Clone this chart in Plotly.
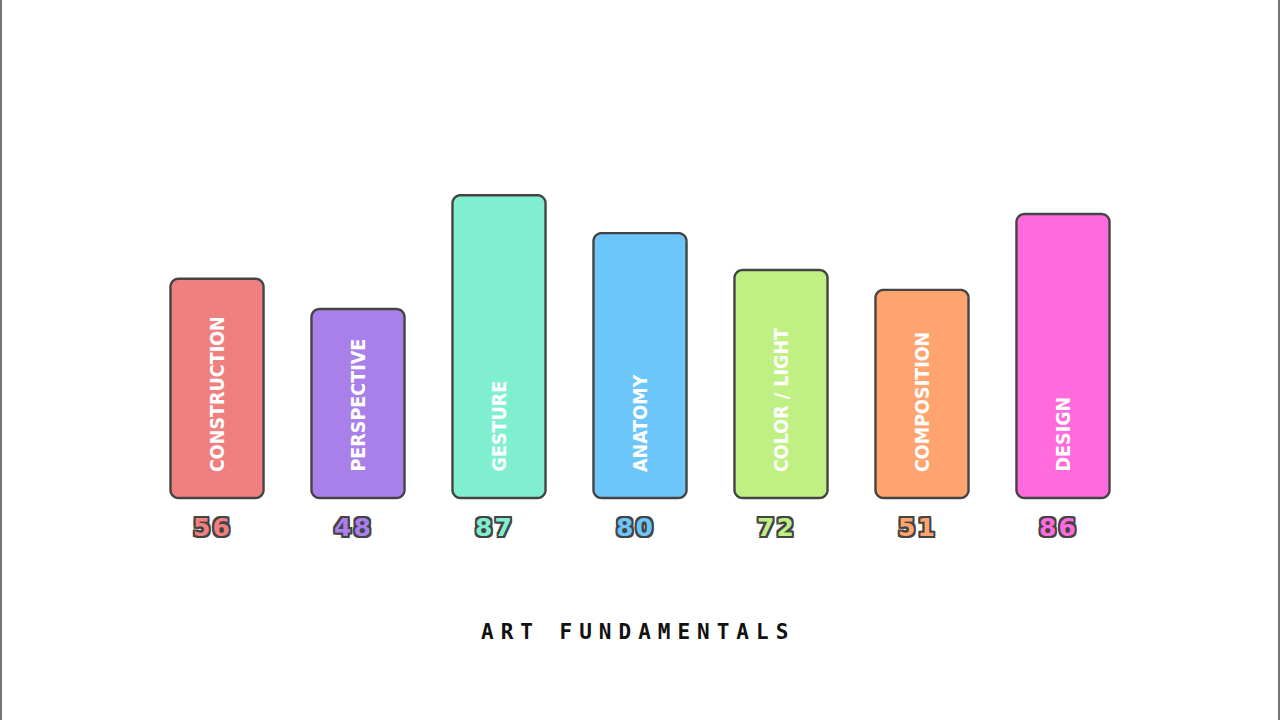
import math
import plotly.graph_objects as go

categories = ["CONSTRUCTION", "PERSPECTIVE", "GESTURE", "ANATOMY", "COLOR / LIGHT", "COMPOSITION", "DESIGN"]
scores = [56, 48, 87, 80, 72, 51, 86]
bar_levels = [63, 54.3, 87, 76.1, 65.5, 59.8, 81.6]
colors = ["#F08080", "#A97FE9", "#80EFD0", "#6CC6FA", "#C0F083", "#FFA36F", "#FF6ADD"]
title_text = "ART FUNDAMENTALS"

OUTLINE = "#444444"
PX_X = 141.0      # pixels per category unit
PX_Y = 3.48       # pixels per value unit
BASE_PX = 498
bar_w = 0.66
radius_px = 8


def rounded_bar(xc, top, w, r_px):
    rx = r_px / PX_X
    ry = r_px / PX_Y
    x0, x1, y0, y1 = xc - w / 2, xc + w / 2, 0.0, top
    pts = []
    corners = [
        (x1 - rx, y1 - ry, 0, 90),
        (x0 + rx, y1 - ry, 90, 180),
        (x0 + rx, y0 + ry, 180, 270),
        (x1 - rx, y0 + ry, 270, 360),
    ]
    for cx, cy, a0, a1 in corners:
        for k in range(13):
            a = math.radians(a0 + (a1 - a0) * k / 12)
            pts.append((cx + rx * math.cos(a), cy + ry * math.sin(a)))
    pts.append(pts[0])
    return [p[0] for p in pts], [p[1] for p in pts]


fig = go.Figure()
for i, (lvl, col) in enumerate(zip(bar_levels, colors)):
    xs, ys = rounded_bar(i, lvl, bar_w, radius_px)
    fig.add_trace(go.Scatter(x=xs, y=ys, mode="lines", fill="toself", fillcolor=col,
                             line=dict(color=OUTLINE, width=2.4, simplify=False, shape="linear"),
                             hoverinfo="skip", showlegend=False))

shadow = ", ".join(f"{dx}px {dy}px 0 {OUTLINE}" for dx, dy in
                   [(-2, -2), (2, -2), (-2, 2), (2, 2), (0, 2), (0, -2), (2, 0), (-2, 0)])

for i, (cat, sc, col) in enumerate(zip(categories, scores, colors)):
    fig.add_annotation(x=i, y=(BASE_PX - 474) / PX_Y, xref="x", yref="y",
                       text=cat, textangle=-90,
                       showarrow=False, yanchor="bottom", xanchor="center",
                       font=dict(family="DejaVu Sans Condensed, Roboto", size=19.5, color="white",
                                 weight="bold"))
    fig.add_annotation(x=i - 0.03, y=-(527 - BASE_PX) / PX_Y, xref="x", yref="y",
                       text=f'<span style="letter-spacing:2px">{sc}</span>',
                       showarrow=False, yanchor="middle", xanchor="center",
                       font=dict(family="DejaVu Sans", size=25, color=col, weight="bold",
                                 shadow=shadow))

fig.add_annotation(x=(638) / 1280, y=(720 - 632) / 720, xref="paper", yref="paper",
                   text=f'<span style="letter-spacing:7px">{title_text}</span>',
                   showarrow=False, xanchor="center", yanchor="middle",
                   font=dict(family="DejaVu Sans Mono", size=21, color="#111111", weight="bold"))

# page side borders
for xp in [1 / 1280, 1279 / 1280]:
    fig.add_shape(type="line", xref="paper", yref="paper", x0=xp, x1=xp, y0=0, y1=1,
                  line=dict(color="#777777", width=2))

fig.update_layout(
    width=1280, height=720,
    margin=dict(l=0, r=0, t=0, b=0),
    paper_bgcolor="white", plot_bgcolor="white",
    xaxis=dict(range=[-217 / PX_X, (1280 - 217) / PX_X], visible=False, domain=[0, 1], fixedrange=True),
    yaxis=dict(range=[-(720 - BASE_PX) / PX_Y, BASE_PX / PX_Y], visible=False,
               domain=[0, 1], fixedrange=True),
    showlegend=False,
)

fig.write_html("out.html")
